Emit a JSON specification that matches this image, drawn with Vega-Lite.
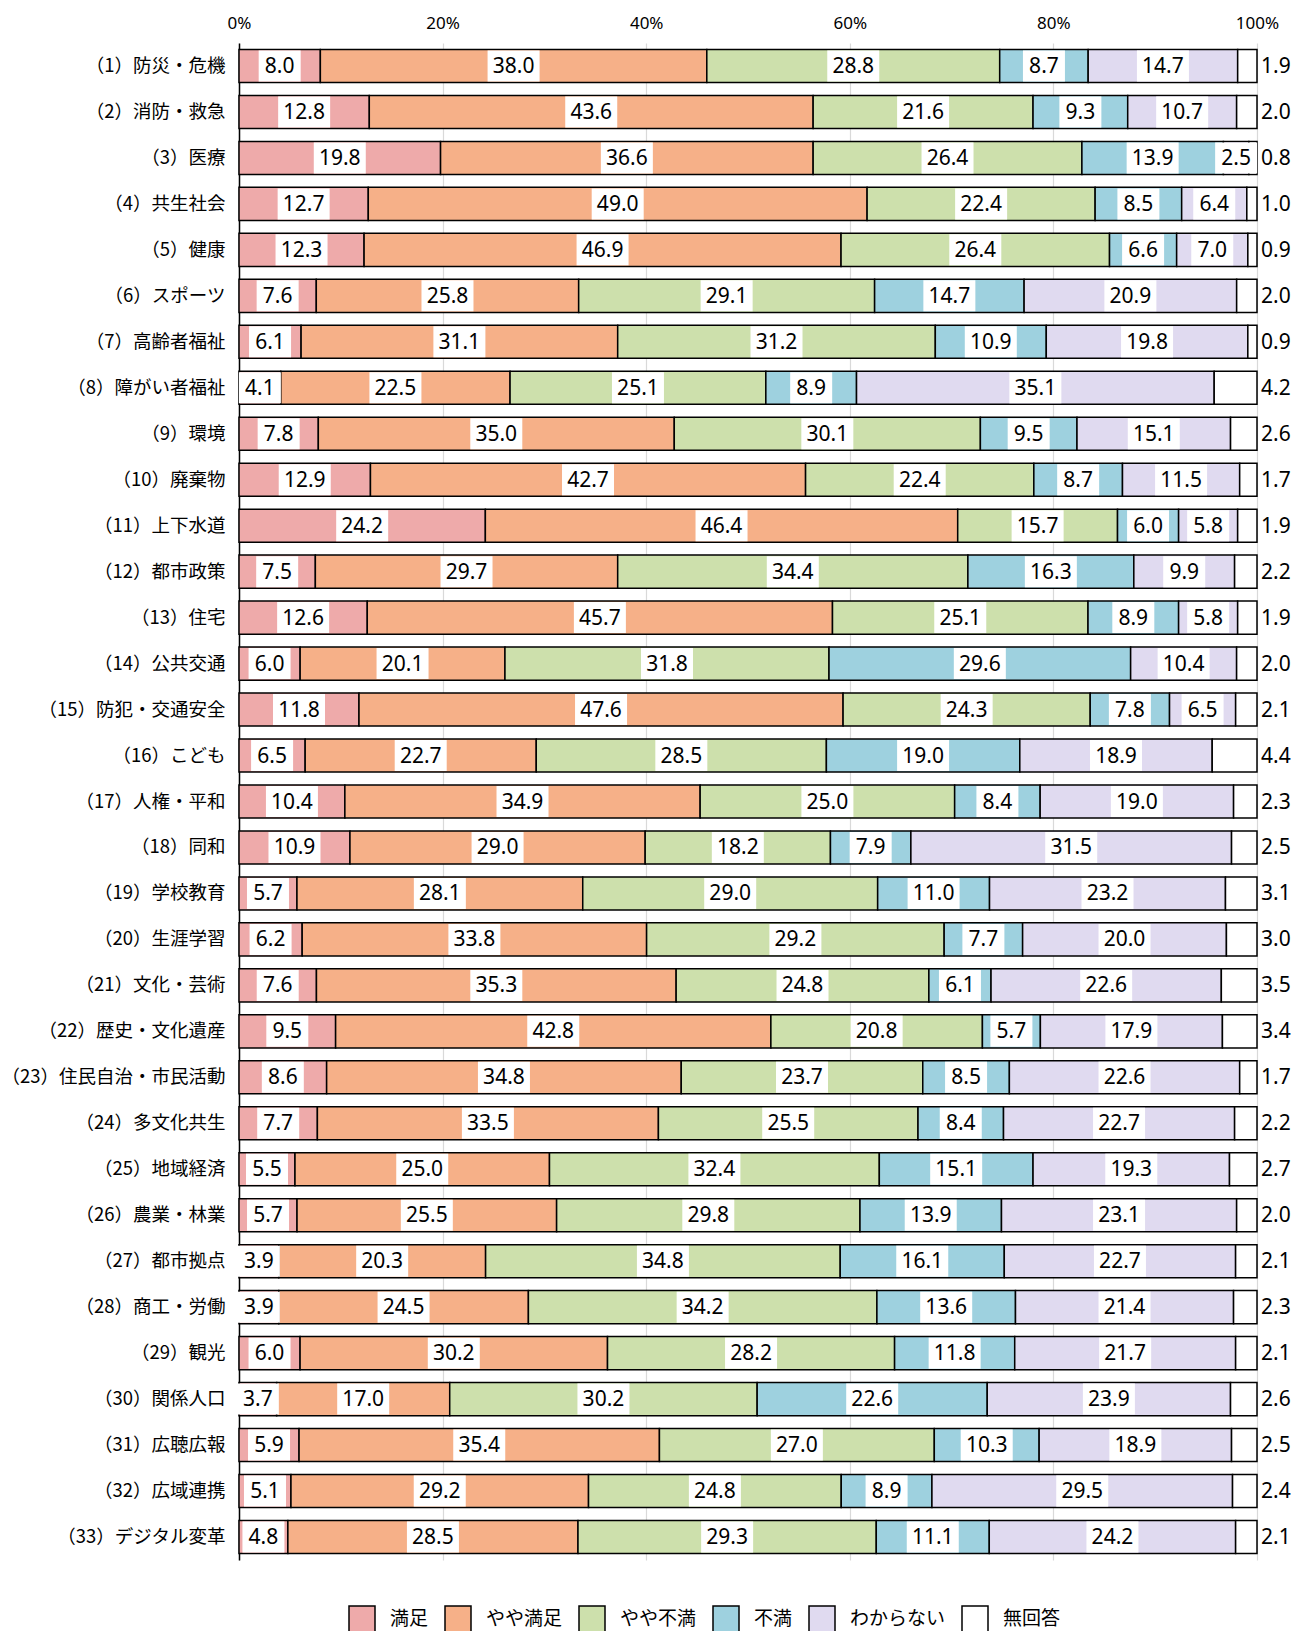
{
  "$schema": "https://vega.github.io/schema/vega-lite/v6.json",
  "autosize": {"type": "none"},
  "width": 1018,
  "height": 1517,
  "padding": {"left": 239, "top": 43, "right": 37, "bottom": 71},
  "background": "white",
  "data": {"values": [
    {"item":"（1）防災・危機","answer":"満足","pct":8.0},{"item":"（1）防災・危機","answer":"やや満足","pct":38.0},{"item":"（1）防災・危機","answer":"やや不満","pct":28.8},{"item":"（1）防災・危機","answer":"不満","pct":8.7},{"item":"（1）防災・危機","answer":"わからない","pct":14.7},{"item":"（1）防災・危機","answer":"無回答","pct":1.9},
    {"item":"（2）消防・救急","answer":"満足","pct":12.8},{"item":"（2）消防・救急","answer":"やや満足","pct":43.6},{"item":"（2）消防・救急","answer":"やや不満","pct":21.6},{"item":"（2）消防・救急","answer":"不満","pct":9.3},{"item":"（2）消防・救急","answer":"わからない","pct":10.7},{"item":"（2）消防・救急","answer":"無回答","pct":2.0},
    {"item":"（3）医療","answer":"満足","pct":19.8},{"item":"（3）医療","answer":"やや満足","pct":36.6},{"item":"（3）医療","answer":"やや不満","pct":26.4},{"item":"（3）医療","answer":"不満","pct":13.9},{"item":"（3）医療","answer":"わからない","pct":2.5},{"item":"（3）医療","answer":"無回答","pct":0.8},
    {"item":"（4）共生社会","answer":"満足","pct":12.7},{"item":"（4）共生社会","answer":"やや満足","pct":49.0},{"item":"（4）共生社会","answer":"やや不満","pct":22.4},{"item":"（4）共生社会","answer":"不満","pct":8.5},{"item":"（4）共生社会","answer":"わからない","pct":6.4},{"item":"（4）共生社会","answer":"無回答","pct":1.0},
    {"item":"（5）健康","answer":"満足","pct":12.3},{"item":"（5）健康","answer":"やや満足","pct":46.9},{"item":"（5）健康","answer":"やや不満","pct":26.4},{"item":"（5）健康","answer":"不満","pct":6.6},{"item":"（5）健康","answer":"わからない","pct":7.0},{"item":"（5）健康","answer":"無回答","pct":0.9},
    {"item":"（6）スポーツ","answer":"満足","pct":7.6},{"item":"（6）スポーツ","answer":"やや満足","pct":25.8},{"item":"（6）スポーツ","answer":"やや不満","pct":29.1},{"item":"（6）スポーツ","answer":"不満","pct":14.7},{"item":"（6）スポーツ","answer":"わからない","pct":20.9},{"item":"（6）スポーツ","answer":"無回答","pct":2.0},
    {"item":"（7）高齢者福祉","answer":"満足","pct":6.1},{"item":"（7）高齢者福祉","answer":"やや満足","pct":31.1},{"item":"（7）高齢者福祉","answer":"やや不満","pct":31.2},{"item":"（7）高齢者福祉","answer":"不満","pct":10.9},{"item":"（7）高齢者福祉","answer":"わからない","pct":19.8},{"item":"（7）高齢者福祉","answer":"無回答","pct":0.9},
    {"item":"（8）障がい者福祉","answer":"満足","pct":4.1},{"item":"（8）障がい者福祉","answer":"やや満足","pct":22.5},{"item":"（8）障がい者福祉","answer":"やや不満","pct":25.1},{"item":"（8）障がい者福祉","answer":"不満","pct":8.9},{"item":"（8）障がい者福祉","answer":"わからない","pct":35.1},{"item":"（8）障がい者福祉","answer":"無回答","pct":4.2},
    {"item":"（9）環境","answer":"満足","pct":7.8},{"item":"（9）環境","answer":"やや満足","pct":35.0},{"item":"（9）環境","answer":"やや不満","pct":30.1},{"item":"（9）環境","answer":"不満","pct":9.5},{"item":"（9）環境","answer":"わからない","pct":15.1},{"item":"（9）環境","answer":"無回答","pct":2.6},
    {"item":"（10）廃棄物","answer":"満足","pct":12.9},{"item":"（10）廃棄物","answer":"やや満足","pct":42.7},{"item":"（10）廃棄物","answer":"やや不満","pct":22.4},{"item":"（10）廃棄物","answer":"不満","pct":8.7},{"item":"（10）廃棄物","answer":"わからない","pct":11.5},{"item":"（10）廃棄物","answer":"無回答","pct":1.7},
    {"item":"（11）上下水道","answer":"満足","pct":24.2},{"item":"（11）上下水道","answer":"やや満足","pct":46.4},{"item":"（11）上下水道","answer":"やや不満","pct":15.7},{"item":"（11）上下水道","answer":"不満","pct":6.0},{"item":"（11）上下水道","answer":"わからない","pct":5.8},{"item":"（11）上下水道","answer":"無回答","pct":1.9},
    {"item":"（12）都市政策","answer":"満足","pct":7.5},{"item":"（12）都市政策","answer":"やや満足","pct":29.7},{"item":"（12）都市政策","answer":"やや不満","pct":34.4},{"item":"（12）都市政策","answer":"不満","pct":16.3},{"item":"（12）都市政策","answer":"わからない","pct":9.9},{"item":"（12）都市政策","answer":"無回答","pct":2.2},
    {"item":"（13）住宅","answer":"満足","pct":12.6},{"item":"（13）住宅","answer":"やや満足","pct":45.7},{"item":"（13）住宅","answer":"やや不満","pct":25.1},{"item":"（13）住宅","answer":"不満","pct":8.9},{"item":"（13）住宅","answer":"わからない","pct":5.8},{"item":"（13）住宅","answer":"無回答","pct":1.9},
    {"item":"（14）公共交通","answer":"満足","pct":6.0},{"item":"（14）公共交通","answer":"やや満足","pct":20.1},{"item":"（14）公共交通","answer":"やや不満","pct":31.8},{"item":"（14）公共交通","answer":"不満","pct":29.6},{"item":"（14）公共交通","answer":"わからない","pct":10.4},{"item":"（14）公共交通","answer":"無回答","pct":2.0},
    {"item":"（15）防犯・交通安全","answer":"満足","pct":11.8},{"item":"（15）防犯・交通安全","answer":"やや満足","pct":47.6},{"item":"（15）防犯・交通安全","answer":"やや不満","pct":24.3},{"item":"（15）防犯・交通安全","answer":"不満","pct":7.8},{"item":"（15）防犯・交通安全","answer":"わからない","pct":6.5},{"item":"（15）防犯・交通安全","answer":"無回答","pct":2.1},
    {"item":"（16）こども","answer":"満足","pct":6.5},{"item":"（16）こども","answer":"やや満足","pct":22.7},{"item":"（16）こども","answer":"やや不満","pct":28.5},{"item":"（16）こども","answer":"不満","pct":19.0},{"item":"（16）こども","answer":"わからない","pct":18.9},{"item":"（16）こども","answer":"無回答","pct":4.4},
    {"item":"（17）人権・平和","answer":"満足","pct":10.4},{"item":"（17）人権・平和","answer":"やや満足","pct":34.9},{"item":"（17）人権・平和","answer":"やや不満","pct":25.0},{"item":"（17）人権・平和","answer":"不満","pct":8.4},{"item":"（17）人権・平和","answer":"わからない","pct":19.0},{"item":"（17）人権・平和","answer":"無回答","pct":2.3},
    {"item":"（18）同和","answer":"満足","pct":10.9},{"item":"（18）同和","answer":"やや満足","pct":29.0},{"item":"（18）同和","answer":"やや不満","pct":18.2},{"item":"（18）同和","answer":"不満","pct":7.9},{"item":"（18）同和","answer":"わからない","pct":31.5},{"item":"（18）同和","answer":"無回答","pct":2.5},
    {"item":"（19）学校教育","answer":"満足","pct":5.7},{"item":"（19）学校教育","answer":"やや満足","pct":28.1},{"item":"（19）学校教育","answer":"やや不満","pct":29.0},{"item":"（19）学校教育","answer":"不満","pct":11.0},{"item":"（19）学校教育","answer":"わからない","pct":23.2},{"item":"（19）学校教育","answer":"無回答","pct":3.1},
    {"item":"（20）生涯学習","answer":"満足","pct":6.2},{"item":"（20）生涯学習","answer":"やや満足","pct":33.8},{"item":"（20）生涯学習","answer":"やや不満","pct":29.2},{"item":"（20）生涯学習","answer":"不満","pct":7.7},{"item":"（20）生涯学習","answer":"わからない","pct":20.0},{"item":"（20）生涯学習","answer":"無回答","pct":3.0},
    {"item":"（21）文化・芸術","answer":"満足","pct":7.6},{"item":"（21）文化・芸術","answer":"やや満足","pct":35.3},{"item":"（21）文化・芸術","answer":"やや不満","pct":24.8},{"item":"（21）文化・芸術","answer":"不満","pct":6.1},{"item":"（21）文化・芸術","answer":"わからない","pct":22.6},{"item":"（21）文化・芸術","answer":"無回答","pct":3.5},
    {"item":"（22）歴史・文化遺産","answer":"満足","pct":9.5},{"item":"（22）歴史・文化遺産","answer":"やや満足","pct":42.8},{"item":"（22）歴史・文化遺産","answer":"やや不満","pct":20.8},{"item":"（22）歴史・文化遺産","answer":"不満","pct":5.7},{"item":"（22）歴史・文化遺産","answer":"わからない","pct":17.9},{"item":"（22）歴史・文化遺産","answer":"無回答","pct":3.4},
    {"item":"（23）住民自治・市民活動","answer":"満足","pct":8.6},{"item":"（23）住民自治・市民活動","answer":"やや満足","pct":34.8},{"item":"（23）住民自治・市民活動","answer":"やや不満","pct":23.7},{"item":"（23）住民自治・市民活動","answer":"不満","pct":8.5},{"item":"（23）住民自治・市民活動","answer":"わからない","pct":22.6},{"item":"（23）住民自治・市民活動","answer":"無回答","pct":1.7},
    {"item":"（24）多文化共生","answer":"満足","pct":7.7},{"item":"（24）多文化共生","answer":"やや満足","pct":33.5},{"item":"（24）多文化共生","answer":"やや不満","pct":25.5},{"item":"（24）多文化共生","answer":"不満","pct":8.4},{"item":"（24）多文化共生","answer":"わからない","pct":22.7},{"item":"（24）多文化共生","answer":"無回答","pct":2.2},
    {"item":"（25）地域経済","answer":"満足","pct":5.5},{"item":"（25）地域経済","answer":"やや満足","pct":25.0},{"item":"（25）地域経済","answer":"やや不満","pct":32.4},{"item":"（25）地域経済","answer":"不満","pct":15.1},{"item":"（25）地域経済","answer":"わからない","pct":19.3},{"item":"（25）地域経済","answer":"無回答","pct":2.7},
    {"item":"（26）農業・林業","answer":"満足","pct":5.7},{"item":"（26）農業・林業","answer":"やや満足","pct":25.5},{"item":"（26）農業・林業","answer":"やや不満","pct":29.8},{"item":"（26）農業・林業","answer":"不満","pct":13.9},{"item":"（26）農業・林業","answer":"わからない","pct":23.1},{"item":"（26）農業・林業","answer":"無回答","pct":2.0},
    {"item":"（27）都市拠点","answer":"満足","pct":3.9},{"item":"（27）都市拠点","answer":"やや満足","pct":20.3},{"item":"（27）都市拠点","answer":"やや不満","pct":34.8},{"item":"（27）都市拠点","answer":"不満","pct":16.1},{"item":"（27）都市拠点","answer":"わからない","pct":22.7},{"item":"（27）都市拠点","answer":"無回答","pct":2.1},
    {"item":"（28）商工・労働","answer":"満足","pct":3.9},{"item":"（28）商工・労働","answer":"やや満足","pct":24.5},{"item":"（28）商工・労働","answer":"やや不満","pct":34.2},{"item":"（28）商工・労働","answer":"不満","pct":13.6},{"item":"（28）商工・労働","answer":"わからない","pct":21.4},{"item":"（28）商工・労働","answer":"無回答","pct":2.3},
    {"item":"（29）観光","answer":"満足","pct":6.0},{"item":"（29）観光","answer":"やや満足","pct":30.2},{"item":"（29）観光","answer":"やや不満","pct":28.2},{"item":"（29）観光","answer":"不満","pct":11.8},{"item":"（29）観光","answer":"わからない","pct":21.7},{"item":"（29）観光","answer":"無回答","pct":2.1},
    {"item":"（30）関係人口","answer":"満足","pct":3.7},{"item":"（30）関係人口","answer":"やや満足","pct":17.0},{"item":"（30）関係人口","answer":"やや不満","pct":30.2},{"item":"（30）関係人口","answer":"不満","pct":22.6},{"item":"（30）関係人口","answer":"わからない","pct":23.9},{"item":"（30）関係人口","answer":"無回答","pct":2.6},
    {"item":"（31）広聴広報","answer":"満足","pct":5.9},{"item":"（31）広聴広報","answer":"やや満足","pct":35.4},{"item":"（31）広聴広報","answer":"やや不満","pct":27.0},{"item":"（31）広聴広報","answer":"不満","pct":10.3},{"item":"（31）広聴広報","answer":"わからない","pct":18.9},{"item":"（31）広聴広報","answer":"無回答","pct":2.5},
    {"item":"（32）広域連携","answer":"満足","pct":5.1},{"item":"（32）広域連携","answer":"やや満足","pct":29.2},{"item":"（32）広域連携","answer":"やや不満","pct":24.8},{"item":"（32）広域連携","answer":"不満","pct":8.9},{"item":"（32）広域連携","answer":"わからない","pct":29.5},{"item":"（32）広域連携","answer":"無回答","pct":2.4},
    {"item":"（33）デジタル変革","answer":"満足","pct":4.8},{"item":"（33）デジタル変革","answer":"やや満足","pct":28.5},{"item":"（33）デジタル変革","answer":"やや不満","pct":29.3},{"item":"（33）デジタル変革","answer":"不満","pct":11.1},{"item":"（33）デジタル変革","answer":"わからない","pct":24.2},{"item":"（33）デジタル変革","answer":"無回答","pct":2.1}
  ]},
  "transform": [
    {"calculate": "indexof(['満足','やや満足','やや不満','不満','わからない','無回答'], datum.answer)", "as": "ord"},
    {"stack": "pct", "groupby": ["item"], "sort": [{"field": "ord", "order": "ascending"}], "offset": "normalize", "as": ["x0", "x1"]},
    {"calculate": "(datum.x0 + datum.x1) / 2", "as": "mid"}
  ],
  "encoding": {
    "y": {
      "field": "item", "type": "nominal", "sort": null,
      "scale": {"paddingInner": 0.28, "paddingOuter": 0.14},
      "axis": {"title": null, "ticks": false, "domain": true, "domainColor": "#000000", "domainWidth": 1.5,
               "labelFont": "Noto Sans CJK JP", "labelFontSize": 18.5, "labelColor": "#000000", "labelPadding": 14, "labelLimit": 300}
    }
  },
  "layer": [
    {
      "mark": {"type": "bar", "stroke": "#000000", "strokeWidth": 1.5},
      "encoding": {
        "x": {"field": "x0", "type": "quantitative", "scale": {"domain": [0, 1], "nice": false},
              "axis": {"orient": "top", "values": [0, 0.2, 0.4, 0.6, 0.8, 1], "format": ".0%", "title": null,
                       "domain": false, "ticks": false, "grid": true, "gridColor": "#d9d9d9", "gridWidth": 1.2,
                       "labelFlush": false, "labelFont": "Noto Sans",
                       "labelFontSize": 17, "labelColor": "#000000", "labelPadding": 11}},
        "x2": {"field": "x1"},
        "color": {
          "field": "answer", "type": "nominal",
          "scale": {"domain": ["満足", "やや満足", "やや不満", "不満", "わからない", "無回答"],
                    "range": ["#eeaaaa", "#f6b088", "#cde0ac", "#9ed1df", "#e0daf0", "#ffffff"]},
          "legend": {"title": null, "orient": "none", "direction": "horizontal", "legendX": 109, "legendY": 1562,
                     "padding": 0, "symbolType": "square", "symbolSize": 676, "symbolStrokeColor": "#000000",
                     "symbolStrokeWidth": 1.5, "symbolOpacity": 1, "labelFont": "Noto Sans CJK JP", "labelFontSize": 19,
                     "labelColor": "#000000", "labelOffset": 14, "columnPadding": 13, "labelLimit": 200}
        }
      }
    },
    {
      "transform": [{"filter": "datum.answer !== '無回答'"}],
      "mark": {"type": "point", "filled": true, "fill": "#ffffff", "opacity": 1, "strokeWidth": 0, "size": 40000},
      "encoding": {
        "x": {"field": "mid", "type": "quantitative"},
        "shape": {"condition": {"test": "datum.pct >= 10", "value": "M-0.26,-0.155H0.26V0.155H-0.26Z"},
                  "value": "M-0.21,-0.155H0.21V0.155H-0.21Z"}
      }
    },
    {
      "transform": [{"filter": "datum.answer !== '無回答'"}],
      "mark": {"type": "text", "font": "Noto Sans", "fontSize": 21, "color": "#000000", "baseline": "middle", "align": "center", "dy": 1},
      "encoding": {
        "x": {"field": "mid", "type": "quantitative"},
        "text": {"field": "pct", "type": "quantitative", "format": ".1f"}
      }
    },
    {
      "transform": [{"filter": "datum.answer === '無回答'"}],
      "mark": {"type": "text", "font": "Noto Sans", "fontSize": 21, "color": "#000000", "baseline": "middle", "align": "left", "dx": 4, "dy": 1},
      "encoding": {
        "x": {"field": "x1", "type": "quantitative"},
        "text": {"field": "pct", "type": "quantitative", "format": ".1f"}
      }
    }
  ],
  "config": {"view": {"stroke": null}}
}
